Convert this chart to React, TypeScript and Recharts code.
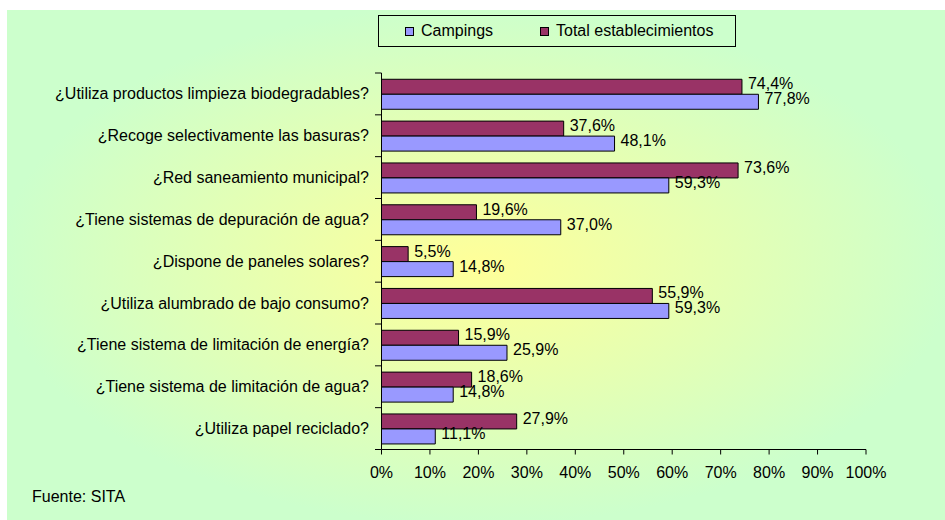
import { BarChart, Bar, XAxis, YAxis, LabelList } from "recharts";

const categories = [
  "¿Utiliza productos limpieza biodegradables?",
  "¿Recoge selectivamente las basuras?",
  "¿Red saneamiento municipal?",
  "¿Tiene sistemas de depuración de agua?",
  "¿Dispone de paneles solares?",
  "¿Utiliza alumbrado de bajo consumo?",
  "¿Tiene sistema de limitación de energía?",
  "¿Tiene sistema de limitación de agua?",
  "¿Utiliza papel reciclado?",
];
const totalValues = [74.4, 37.6, 73.6, 19.6, 5.5, 55.9, 15.9, 18.6, 27.9];
const campingValues = [77.8, 48.1, 59.3, 37.0, 14.8, 59.3, 25.9, 14.8, 11.1];
const xTicks = [0, 10, 20, 30, 40, 50, 60, 70, 80, 90, 100];

const data = categories.map((name, i) => ({
  name,
  total: totalValues[i],
  campings: campingValues[i],
}));

const FONT = "'Liberation Sans', Arial, sans-serif";
const FS = 16;
const MAROON = "#993366";
const LAVENDER = "#9999FF";

const W = 945;
const H = 520;
const X_AXIS_H = 30;
const MARGIN = { top: 73, right: 79, bottom: 70.5 - X_AXIS_H, left: 0 };
const PLOT_H = H - 73 - 70.5;
const BAND = PLOT_H / categories.length;

const fmt = (v: number) => v.toFixed(1).replace(".", ",") + "%";

const YTick = ({ x, y, payload, index }: any) => (
  <g>
    <text x={x} y={y} textAnchor="end" dominantBaseline="central" fontSize={FS} fontFamily={FONT} fill="#000">
      {payload.value}
    </text>
    <line x1={x + 6} x2={x + 12.5} y1={y - BAND / 2} y2={y - BAND / 2} stroke="#000" />
    {index === categories.length - 1 && (
      <line x1={x + 6} x2={x + 12.5} y1={y + BAND / 2} y2={y + BAND / 2} stroke="#000" />
    )}
  </g>
);

const XTick = ({ x, y, payload }: any) => (
  <text x={x} y={y + 21} textAnchor="middle" fontSize={FS} fontFamily={FONT} fill="#000">
    {payload.value}%
  </text>
);

const ValueLabel = ({ x, y, width, height, value }: any) => (
  <text
    x={x + width + 6}
    y={y + height / 2 - 3}
    dominantBaseline="central"
    fontSize={FS}
    fontFamily={FONT}
    fill="#000"
  >
    {fmt(value)}
  </text>
);

const LegendSwatch = ({ color }: { color: string }) => (
  <span
    style={{
      display: "inline-block",
      width: 7,
      height: 7,
      background: color,
      border: "1px solid #000",
      marginRight: 7,
    }}
  />
);

export default function App() {
  return (
    <div style={{ position: "fixed", left: 0, top: 0, width: W, height: H, background: "#fff", fontFamily: FONT }}>
      <div
        style={{
          position: "absolute",
          left: 7,
          top: 10,
          width: W - 7,
          height: H - 10,
          background: "radial-gradient(ellipse farthest-corner at 50% 50%, #FFFF99 0%, #CCFFCC 72%)",
        }}
      />
      <div style={{ position: "absolute", left: 0, top: 0 }}>
        <BarChart
          width={W}
          height={H}
          data={data}
          layout="vertical"
          margin={MARGIN}
          barCategoryGap="15%"
          barGap={0}
        >
          <XAxis
            type="number"
            domain={[0, 100]}
            ticks={xTicks}
            interval={0}
            height={X_AXIS_H}
            tick={<XTick />}
            tickSize={5}
            tickLine={{ stroke: "#000" }}
            axisLine={{ stroke: "#000" }}
          />
          <YAxis
            type="category"
            dataKey="name"
            width={381.5}
            tick={<YTick />}
            tickLine={false}
            tickSize={0}
            tickMargin={12.5}
            interval={0}
            axisLine={{ stroke: "#000" }}
          />
          <Bar dataKey="total" name="Total establecimientos" fill={MAROON} stroke="#000" strokeWidth={1} isAnimationActive={false}>
            <LabelList dataKey="total" content={<ValueLabel />} />
          </Bar>
          <Bar dataKey="campings" name="Campings" fill={LAVENDER} stroke="#000" strokeWidth={1} isAnimationActive={false}>
            <LabelList dataKey="campings" content={<ValueLabel />} />
          </Bar>
        </BarChart>
      </div>
      <div
        style={{
          position: "absolute",
          left: 378,
          top: 15,
          width: 356,
          height: 30,
          border: "1px solid #000",
          display: "flex",
          alignItems: "center",
          fontSize: FS,
          color: "#000",
          boxSizing: "content-box",
        }}
      >
        <span style={{ position: "absolute", left: 26, display: "flex", alignItems: "center" }}>
          <LegendSwatch color={LAVENDER} />
          Campings
        </span>
        <span style={{ position: "absolute", left: 161, display: "flex", alignItems: "center" }}>
          <LegendSwatch color={MAROON} />
          Total establecimientos
        </span>
      </div>
      <div style={{ position: "absolute", left: 32, top: 488, fontSize: FS, color: "#000" }}>Fuente: SITA</div>
    </div>
  );
}
